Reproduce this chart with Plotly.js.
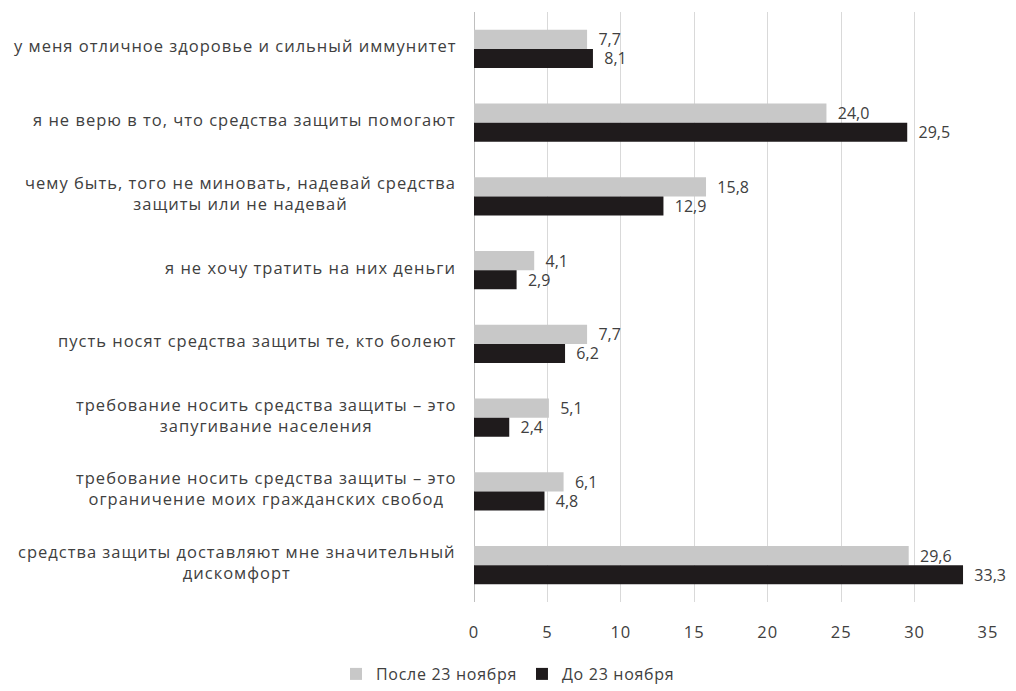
<!DOCTYPE html>
<html><head><meta charset="utf-8">
<script src="https://cdn.plot.ly/plotly-3.0.1.min.js"></script>
<style>
body{margin:0;background:#fff}#chart{width:1016px;height:691px}
.annotation-text{letter-spacing:1px}
.legendtext{letter-spacing:0.7px}
.xtick text{letter-spacing:1px}
</style>
</head><body><div id="chart"></div>
<script>
const categories = [
  "у меня отличное здоровье и сильный иммунитет",
  "я не верю в то, что средства защиты помогают",
  "чему быть, того не миновать, надевай средства<br>защиты или не надевай",
  "я не хочу тратить на них деньги",
  "пусть носят средства защиты те, кто болеют",
  "требование носить средства защиты – это<br>запугивание населения",
  "требование носить средства защиты – это<br>ограничение моих гражданских свобод",
  "средства защиты доставляют мне значительный<br>дискомфорт"
];
const seriesNames = ["После 23 ноября", "До 23 ноября"];
const afterVals = [7.7, 24.0, 15.8, 4.1, 7.7, 5.1, 6.1, 29.6];
const beforeVals = [8.1, 29.5, 12.9, 2.9, 6.2, 2.4, 4.8, 33.3];
const xTicks = [0, 5, 10, 15, 20, 25, 30, 35];

const labelFont = {family: "Open Sans, sans-serif", size: 16.5, color: "#404040"};
const numFont = {family: "Liberation Sans Narrow, Open Sans, sans-serif", size: 16, color: "#404040"};

const traces = [
  {type: "bar", orientation: "h", name: seriesNames[0], y: categories, x: afterVals,
   marker: {color: "#c8c8c8"}, texttemplate: "\u00a0\u00a0%{x:.1f}", textposition: "outside",
   constraintext: "none", textfont: numFont, cliponaxis: false},
  {type: "bar", orientation: "h", name: seriesNames[1], y: categories, x: beforeVals,
   marker: {color: "#1f1b1c"}, texttemplate: "\u00a0\u00a0%{x:.1f}", textposition: "outside",
   constraintext: "none", textfont: numFont, cliponaxis: false}
];

const annotations = categories.map(c => ({
  xref: "paper", yref: "y", x: 0, y: c, xanchor: "right", xshift: -16, yshift: 3,
  text: c, showarrow: false, align: "center", font: labelFont
}));

const layout = {
  width: 1016, height: 691,
  margin: {l: 474, r: 28, t: 12, b: 89},
  paper_bgcolor: "#fff", plot_bgcolor: "#fff",
  separators: ", ",
  barmode: "group", bargap: 0.48, bargroupgap: 0,
  showlegend: true,
  legend: {orientation: "h", x: 0.5, xref: "container", xanchor: "center", y: 0, yref: "container", yanchor: "bottom",
    font: {family: "Open Sans, sans-serif", size: 16, color: "#404040"}, itemwidth: 30, traceorder: "normal"},
  xaxis: {range: [0, 35], tickvals: xTicks, showgrid: true, gridcolor: "#d9d9d9", gridwidth: 1,
    zeroline: true, zerolinecolor: "#bfbfbf", showline: false, ticks: "", ticklabelstandoff: 18,
    tickfont: {family: "Liberation Sans Narrow, Open Sans, sans-serif", size: 16.5, color: "#404040"}, fixedrange: true},
  yaxis: {type: "category", autorange: "reversed", showticklabels: false, showgrid: false,
    zeroline: false, showline: false, ticks: ""},
  annotations: annotations
};

Plotly.newPlot("chart", traces, layout, {displayModeBar: false, staticPlot: true});
</script>
</body></html>
